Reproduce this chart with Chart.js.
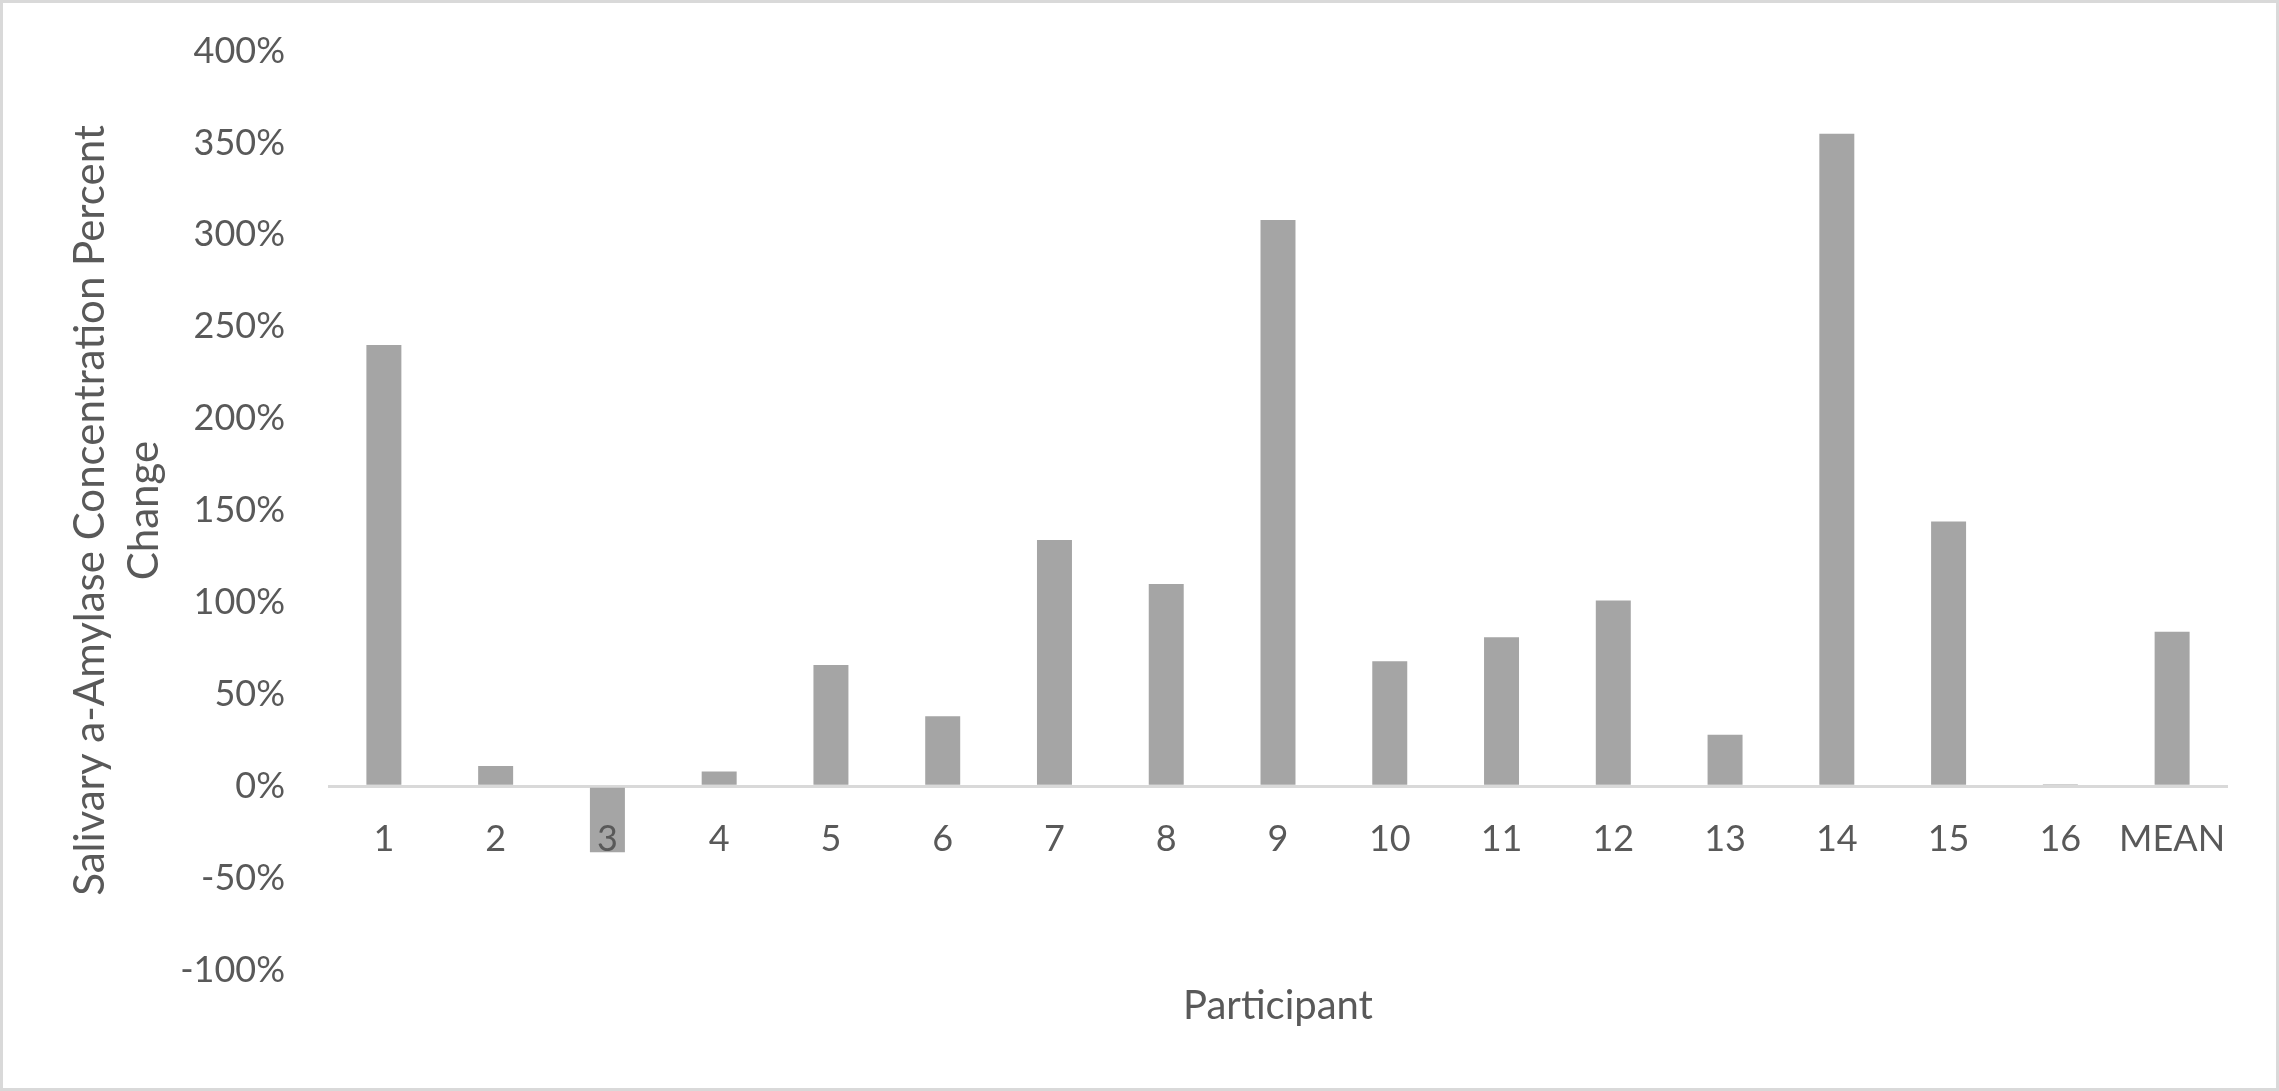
<!DOCTYPE html>
<html>
<head>
<meta charset="utf-8">
<script src="https://cdn.jsdelivr.net/npm/chart.js@4.4.1/dist/chart.umd.min.js"></script>
<style>
  html, body { margin: 0; padding: 0; background: #fff; }
  #wrap { width: 2279px; height: 1091px; box-sizing: border-box; border: 3px solid #d9d9d9; background: #fff; }
  canvas { display: block; }
</style>
</head>
<body>
<div id="wrap"><canvas id="c" width="2273" height="1085"></canvas></div>
<script>
const participants = ['1','2','3','4','5','6','7','8','9','10','11','12','13','14','15','16','MEAN'];
const percentChange = [240, 11, -36, 8, 66, 38, 134, 110, 308, 68, 81, 101, 28, 355, 144, 1, 84];
const yTicks = [-100, -50, 0, 50, 100, 150, 200, 250, 300, 350, 400];
const yTitle = ['Salivary a-Amylase Concentration Percent', 'Change'];
const xTitle = 'Participant';

const FONT = 'Lato, "Open Sans", sans-serif';
const TEXT = '#595959';

const xTitlePlugin = {
  id: 'xTitle',
  afterDraw(chart) {
    const {ctx, chartArea} = chart;
    ctx.save();
    ctx.font = '40px ' + FONT;
    ctx.fillStyle = TEXT;
    ctx.textAlign = 'center';
    ctx.textBaseline = 'alphabetic';
    ctx.fillText(xTitle, (chartArea.left + chartArea.right) / 2, 1016);
    ctx.restore();
  }
};

new Chart(document.getElementById('c'), {
  type: 'bar',
  data: {
    labels: participants,
    datasets: [{
      data: percentChange,
      backgroundColor: '#A5A5A5',
      borderWidth: 0,
      barPercentage: 0.313,
      categoryPercentage: 1
    }]
  },
  options: {
    responsive: false,
    animation: false,
    layout: { padding: { top: 48, right: 48, bottom: 118, left: 0 } },
    plugins: { legend: { display: false }, tooltip: { enabled: false } },
    scales: {
      x: {
        position: { y: 0 },
        grid: { display: false, drawTicks: false },
        border: { display: false },
        ticks: { z: 1, font: { family: FONT, size: 36 }, color: TEXT, padding: 32, maxRotation: 0, autoSkip: false }
      },
      y: {
        min: -100, max: 400,
        afterBuildTicks(scale) { scale.ticks = yTicks.map(v => ({ value: v })); },
        grid: {
          drawTicks: false,
          lineWidth: 3,
          color: ctx => (ctx.tick && ctx.tick.value === 0) ? '#D9D9D9' : 'rgba(0,0,0,0)'
        },
        border: { display: false },
        ticks: { font: { family: FONT, size: 36 }, color: TEXT, padding: 43, callback: v => v + '%' },
        title: {
          display: true,
          text: yTitle,
          color: TEXT,
          font: { family: FONT, size: 42, lineHeight: 1.3 },
          padding: { top: 60, bottom: 0 }
        },
        afterFit(scale) {
          scale.width = 325;
          scale.paddingTop = 0;
          scale.paddingBottom = 0;
        }
      }
    }
  },
  plugins: [xTitlePlugin]
});
</script>
</body>
</html>
